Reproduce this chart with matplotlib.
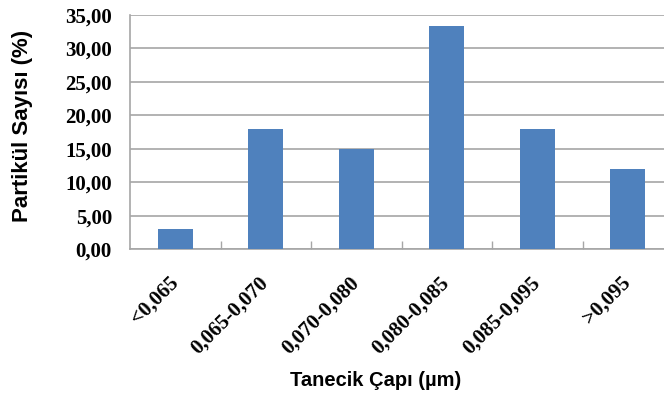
import numpy as np
import matplotlib.pyplot as plt
from matplotlib.ticker import FuncFormatter, FixedLocator

# particle size classes and their share of particle count (%)
size_classes = ['<0,065', '0,065-0,070', '0,070-0,080', '0,080-0,085', '0,085-0,095', '>0,095']
particle_pct = [3.0, 18.0, 15.0, 33.3, 18.0, 12.0]

bar_color = '#4F81BD'
grid_color = '#A6A6A6'

fig = plt.figure(figsize=(6.64, 3.96), dpi=100)
ax = fig.add_axes([130 / 664, 1 - 249.3 / 396, 543 / 664, 234.3 / 396])

x = np.arange(len(size_classes))
ax.bar(x, particle_pct, width=0.39, color=bar_color, zorder=3)

ax.set_xlim(-0.5, len(size_classes) - 0.5)
ax.set_ylim(0, 35)
ax.set_yticks(np.arange(0, 36, 5))
ax.yaxis.set_major_formatter(FuncFormatter(lambda v, p: f'{v:.2f}'.replace('.', ',')))
ax.grid(axis='y', color=grid_color, linewidth=1.2, zorder=0)
ax.tick_params(axis='y', length=0, pad=13)

# category labels centred under bars, boundary ticks pointing inward
ax.set_xticks(x)
ax.set_xticklabels(size_classes, rotation=45, ha='right', va='center', rotation_mode='anchor')
ax.tick_params(axis='x', which='major', length=0, pad=22)
ax.xaxis.set_minor_locator(FixedLocator(np.arange(0.5, len(size_classes) - 0.5, 1)))
ax.tick_params(axis='x', which='minor', direction='in', length=6, color=grid_color, width=1)

for lbl in ax.get_xticklabels() + ax.get_yticklabels():
    lbl.set_family('Liberation Serif')
    lbl.set_fontweight('bold')
    lbl.set_fontsize(15)

for side in ('top', 'right'):
    ax.spines[side].set_visible(False)
for side in ('left', 'bottom'):
    ax.spines[side].set_color(grid_color)
    ax.spines[side].set_linewidth(1.2)

ax.set_ylabel('Partikül Sayısı (%)', family='Liberation Sans', fontweight='bold', fontsize=16)
ax.yaxis.set_label_coords((33 - 130) / 543, (249.3 - 125.5) / 234.3)
ax.set_xlabel('Tanecik Çapı (µm)', family='Liberation Sans', fontweight='bold', fontsize=14.5, va='top')
ax.xaxis.set_label_coords((376 - 130) / 543, (249.3 - 371) / 234.3)

fig.savefig('out.png', dpi=100)
